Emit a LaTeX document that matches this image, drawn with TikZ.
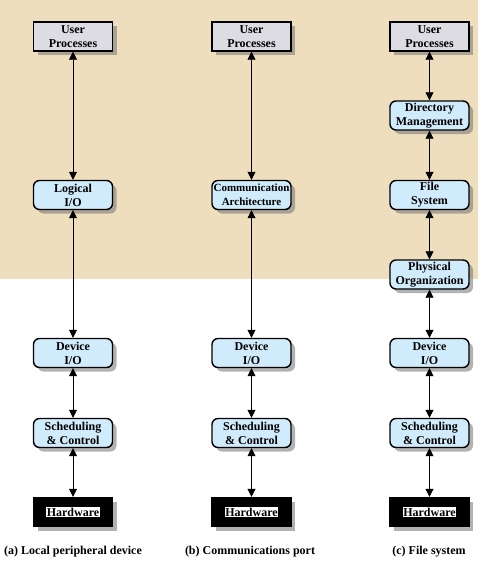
\documentclass[tikz,border=0pt]{standalone}
\usepackage{fontspec}
\setmainfont{Liberation Serif}
\usetikzlibrary{arrows.meta,shadows}

\definecolor{parchment}{RGB}{239,222,190}
\definecolor{usergray}{RGB}{220,220,226}
\definecolor{layerblue}{RGB}{208,235,251}

\begin{document}
\begin{tikzpicture}[x=1pt,y=-1pt,
            box/.style={draw,line width=1.4pt,minimum width=79pt,minimum height=29pt,
                        inner sep=0pt,align=center,font=\bfseries\fontsize{12}{14}\selectfont,
                        drop shadow={shadow xshift=4pt,shadow yshift=-4pt,fill=black!55,opacity=0.55}},
            userbox/.style={box,fill=usergray},
            layerbox/.style={box,fill=layerblue,rounded corners=6pt},
            hwbox/.style={box,fill=black},
            caption/.style={font=\bfseries\fontsize{12}{14}\selectfont},
            link/.style={{Triangle[length=8pt,width=8pt]}-{Triangle[length=8pt,width=8pt]},line width=0.8pt},
            ]
            \useasboundingbox (0,0) rectangle (488,573);
            \fill[parchment] (0,0) rectangle (478,279);

            % (a) local peripheral device
            \node[userbox]  (usrA) at (73,36.5) {User\\Processes};
            \node[layerbox] (logA) at (73,195)  {Logical\\I/O};
            \node[layerbox] (devA) at (73,353)  {Device\\I/O};
            \node[layerbox] (schA) at (73,433)  {Scheduling\\\& Control};
            \node[hwbox]    (hwA)  at (73,512)  {\setlength\fboxsep{0.6pt}\colorbox{white}{Hardware}};
            \node[caption]  (capA) at (73,552)  {(a) Local peripheral device};

            % (b) communications port
            \node[userbox]  (usrB) at (251.5,36.5) {User\\Processes};
            \node[layerbox,font=\bfseries\fontsize{11}{14}\selectfont] (comB) at (251.5,195) {Communication\\Architecture};
            \node[layerbox] (devB) at (251.5,353)  {Device\\I/O};
            \node[layerbox] (schB) at (251.5,433)  {Scheduling\\\& Control};
            \node[hwbox]    (hwB)  at (251.5,512)  {\setlength\fboxsep{0.6pt}\colorbox{white}{Hardware}};
            \node[caption]  (capB) at (250,552)    {(b) Communications port};

            % (c) file system
            \node[userbox]  (usrC) at (429.5,36.5) {User\\Processes};
            \node[layerbox] (dirC) at (429.5,115.5) {Directory\\Management};
            \node[layerbox] (filC) at (429.5,195)  {File\\System};
            \node[layerbox] (phyC) at (429.5,274.5) {Physical\\Organization};
            \node[layerbox] (devC) at (429.5,353)  {Device\\I/O};
            \node[layerbox] (schC) at (429.5,433)  {Scheduling\\\& Control};
            \node[hwbox]    (hwC)  at (429.5,512)  {\setlength\fboxsep{0.6pt}\colorbox{white}{Hardware}};
            \node[caption]  (capC) at (429,552)    {(c) File system};

            \foreach \u/\v in {usrA/logA, logA/devA, devA/schA, schA/hwA,
                               usrB/comB, comB/devB, devB/schB, schB/hwB,
                               usrC/dirC, dirC/filC, filC/phyC, phyC/devC, devC/schC, schC/hwC}
                \draw[link] (\u.south) -- (\v.north);
        \end{tikzpicture}
\end{document}
